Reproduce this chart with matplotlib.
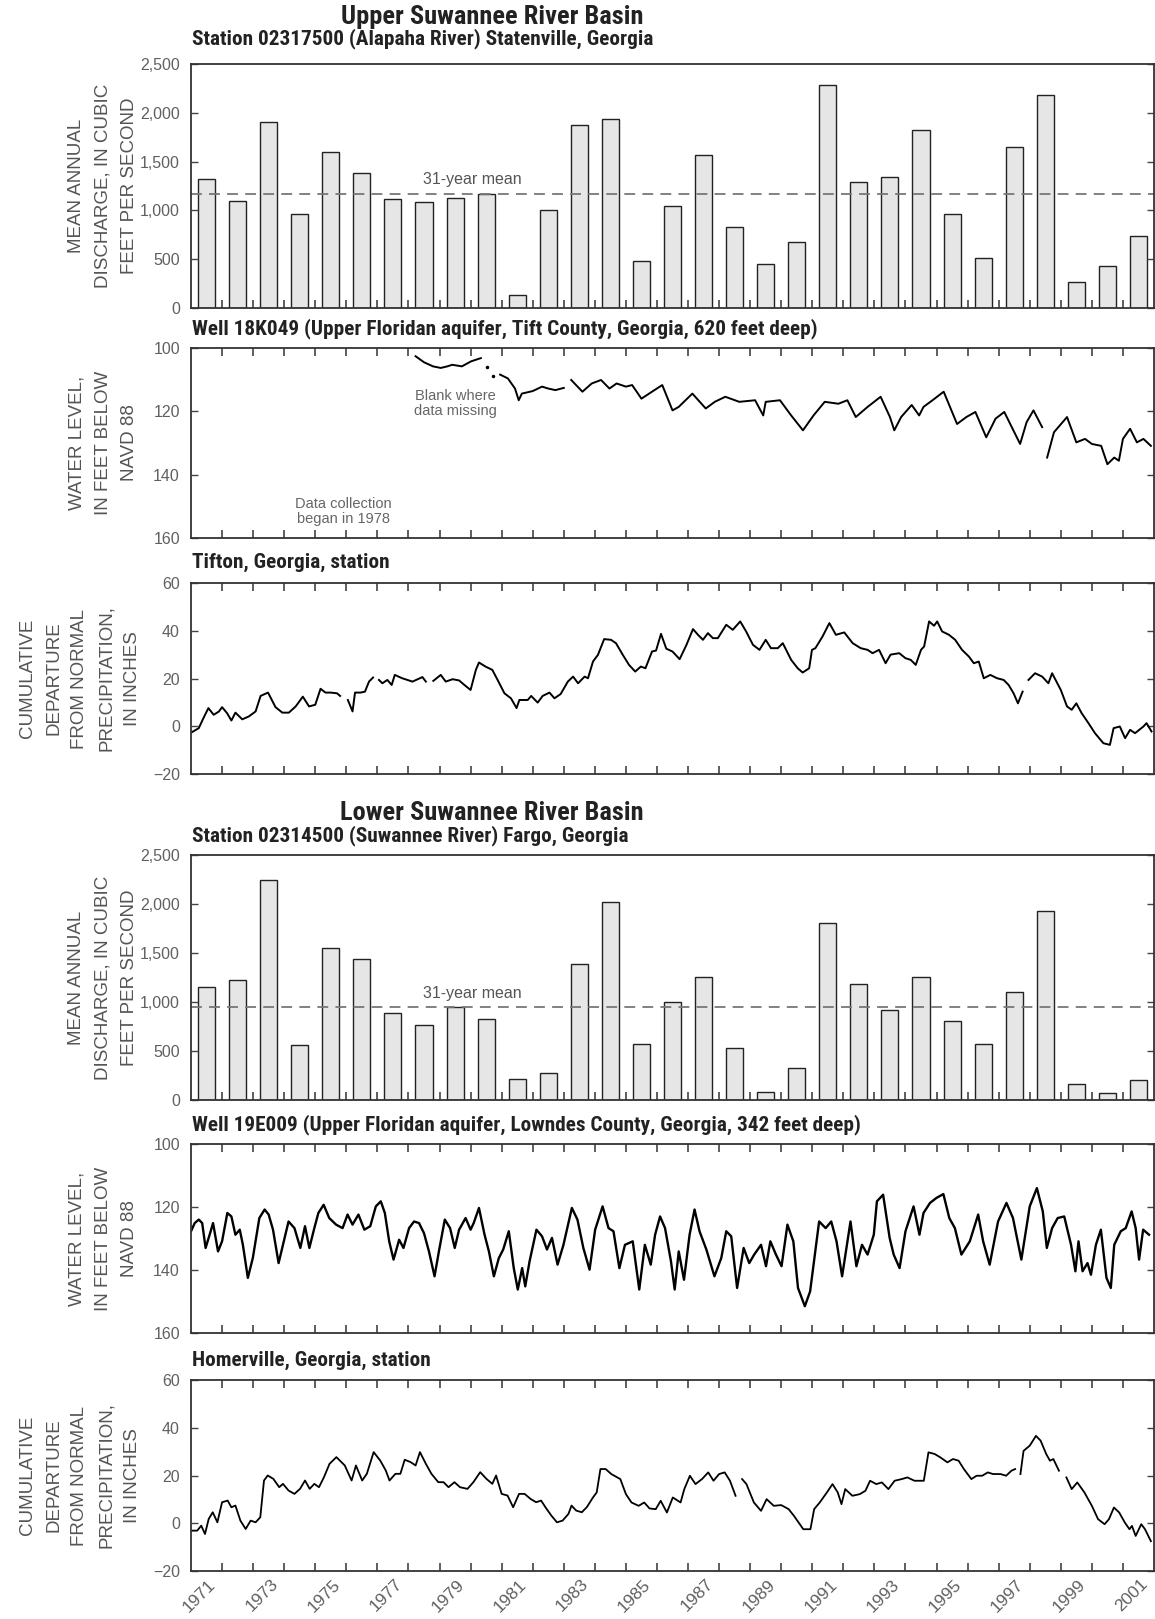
import numpy as np
import matplotlib.pyplot as plt
from matplotlib import font_manager as fm

plt.rcParams['font.family'] = ['Liberation Sans', 'DejaVu Sans']

years = np.arange(1971, 2002)

# mean annual discharge, cfs
statenville_q = [1318, 1096, 1901, 959, 1603, 1387, 1120, 1089, 1127, 1164,
                 137, 1003, 1870, 1940, 486, 1044, 1565, 833, 449, 680,
                 2289, 1289, 1344, 1820, 959, 510, 1650, 2184, 262, 435, 741]
fargo_q = [1156, 1224, 2245, 561, 1548, 1435, 891, 765, 952, 823,
           218, 272, 1384, 2017, 571, 1000, 1252, 527, 85, 330,
           1810, 1180, 918, 1259, 810, 575, 1099, 1929, 160, 68, 201]

nan = np.nan

# Well 18K049, water level in feet below NAVD 88 (nan = gap in record)
well18_t = [1978.23, 1978.5, 1978.79, 1979.04, 1979.25, 1979.41, 1979.72, 1980.02, 1980.33, nan,
            1980.95, 1981.2, 1981.43, 1981.55, 1981.65, 1982.0, 1982.3, 1982.5, 1982.73, 1983.0, nan,
            1983.24, 1983.6, 1983.9, 1984.2, 1984.47, 1984.7, 1985.0, 1985.2, 1985.5, 1985.84,
            1986.17, 1986.5, 1986.7, 1987.14, 1987.57, 1987.86, 1988.2, 1988.65, 1989.16, 1989.42,
            1989.5, 1989.96, 1990.32, 1990.7, 1991.04, 1991.4, 1991.84, 1992.13, 1992.4, 1992.78,
            1993.2, 1993.5, 1993.64, 1993.86, 1994.2, 1994.44, 1994.58, 1994.87, 1995.23, 1995.66,
            1995.96, 1996.25, 1996.6, 1996.9, 1997.18, 1997.69, 1997.9, 1998.12, 1998.4, nan,
            1998.56, 1998.78, 1999.2, 1999.5, 1999.78, 2000.0, 2000.3, 2000.5, 2000.72, 2000.87,
            2001.0, 2001.23, 2001.45, 2001.66, 2001.9]
well18_v = [102.6, 104.5, 105.8, 106.3, 105.8, 105.3, 105.8, 104.2, 103.2, nan,
            108.4, 109.6, 112.8, 116.5, 114.4, 113.6, 112.2, 112.8, 113.3, 112.6, nan,
            110.1, 113.8, 111.2, 110.1, 112.8, 111.2, 112.2, 111.7, 116.0, 113.8,
            111.7, 119.7, 118.6, 114.4, 119.1, 117.0, 115.4, 117.0, 116.5, 121.3,
            117.0, 116.5, 121.3, 126.0, 121.3, 117.0, 117.6, 116.5, 121.8, 118.6,
            115.4, 121.8, 126.0, 121.8, 118.0, 121.3, 118.6, 116.5, 113.8, 124.0,
            121.8, 120.2, 128.2, 122.3, 120.2, 130.3, 123.4, 119.7, 125.0, nan,
            134.6, 126.6, 121.8, 129.8, 128.7, 130.3, 130.9, 136.7, 134.6, 135.6,
            128.7, 125.5, 129.8, 128.7, 130.9]
well18_dots_t = [1980.52, 1980.73]
well18_dots_v = [106.0, 109.0]

# Tifton cumulative departure from normal precipitation, inches
tifton_t = [1971.0, 1971.25, 1971.4, 1971.56, 1971.73, 1971.9, 1972.0, 1972.16, 1972.3, 1972.43,
            1972.65, 1972.86, 1973.08, 1973.24, 1973.48, 1973.72, 1973.94, 1974.15, 1974.37, 1974.6,
            1974.8, 1975.0, 1975.17, 1975.33, 1975.5, 1975.7, 1975.8, nan,
            1976.05, 1976.2, 1976.28, 1976.46, 1976.6, 1976.73, 1976.86, nan,
            1977.05, 1977.16, 1977.32, 1977.46, 1977.56, 1977.8, 1978.13, 1978.45, 1978.56, nan,
            1978.8, 1979.04, 1979.2, 1979.42, 1979.63, 1979.8, 1980.0, 1980.17, 1980.27, 1980.48,
            1980.7, 1980.87, 1981.09, 1981.3, 1981.48, 1981.57, 1981.84, 1981.95, 1982.16, 1982.32,
            1982.54, 1982.7, 1982.9, 1983.13, 1983.3, 1983.46, 1983.67, 1983.78, 1983.94, 1984.1,
            1984.3, 1984.52, 1984.68, 1984.9, 1985.1, 1985.3, 1985.48, 1985.63, 1985.84, 1985.97,
            1986.13, 1986.3, 1986.5, 1986.73, 1986.95, 1987.16, 1987.32, 1987.48, 1987.64, 1987.8,
            1987.96, 1988.23, 1988.44, 1988.68, 1988.87, 1989.09, 1989.3, 1989.5, 1989.67, 1989.89,
            1990.05, 1990.32, 1990.53, 1990.69, 1990.9, 1990.99, 1991.1, 1991.33, 1991.55, 1991.76,
            1992.03, 1992.3, 1992.56, 1992.78, 1992.94, 1993.15, 1993.36, 1993.52, 1993.8, 1994.0,
            1994.17, 1994.33, 1994.5, 1994.6, 1994.76, 1994.92, 1995.02, 1995.18, 1995.4, 1995.6,
            1995.82, 1996.04, 1996.2, 1996.36, 1996.52, 1996.73, 1996.95, 1997.16, 1997.32, 1997.48,
            1997.62, 1997.77, nan,
            1997.96, 1998.17, 1998.4, 1998.6, 1998.72, 1999.0, 1999.2, 1999.35, 1999.5, 1999.67,
            1999.89, 2000.1, 2000.37, 2000.58, 2000.7, 2000.9, 2001.07, 2001.23, 2001.39, 2001.66,
            2001.76, 2001.92]
tifton_v = [-2.7, -0.8, 3.4, 7.6, 4.8, 6.2, 8.0, 5.5, 2.4, 5.7,
            2.9, 4.1, 6.2, 12.7, 14.1, 8.0, 5.7, 5.7, 8.3, 12.4,
            8.3, 9.0, 15.7, 14.1, 14.1, 13.8, 12.7, nan,
            11.0, 6.2, 14.1, 14.1, 14.5, 18.7, 20.4, nan,
            19.4, 18.0, 19.4, 17.3, 21.5, 20.1, 18.7, 20.6, 18.7, nan,
            19.0, 21.5, 18.7, 19.7, 19.2, 17.3, 15.2, 23.6, 26.7, 25.0,
            23.6, 19.4, 13.8, 11.7, 7.6, 11.0, 11.0, 12.7, 9.9, 12.7,
            14.1, 11.7, 13.5, 18.7, 20.8, 18.0, 20.8, 20.1, 27.1, 29.9,
            36.5, 36.2, 34.8, 29.9, 25.7, 22.9, 25.0, 24.3, 31.3, 31.7,
            38.7, 32.5, 31.3, 28.1, 34.1, 40.7, 38.3, 36.2, 39.0, 36.9,
            36.9, 42.5, 40.4, 43.9, 39.7, 34.1, 32.0, 36.2, 32.7, 32.7,
            34.8, 27.8, 24.3, 22.5, 24.3, 32.0, 32.7, 37.6, 43.2, 38.3,
            39.3, 34.8, 32.7, 32.0, 30.6, 32.0, 26.4, 30.0, 30.6, 28.5,
            27.8, 25.7, 32.0, 33.4, 43.9, 42.1, 43.9, 39.7, 38.3, 36.2,
            32.0, 29.2, 26.4, 27.1, 20.1, 21.5, 20.1, 19.4, 17.3, 13.8,
            9.6, 14.5, nan,
            19.4, 22.2, 20.8, 18.0, 22.2, 15.2, 8.3, 6.9, 9.6, 5.5,
            1.3, -2.9, -7.1, -7.8, -0.8, -0.1, -5.0, -1.5, -2.9, -0.1,
            1.3, -2.2]

# Well 19E009, water level in feet below NAVD 88
well19_t = [1971.0, 1971.12, 1971.25, 1971.36, 1971.47, 1971.6, 1971.71, 1971.87, 1972.0, 1972.17,
            1972.3, 1972.43, 1972.57, 1972.67, 1972.83, 1972.99, 1973.2, 1973.37, 1973.5, 1973.64,
            1973.82, 1973.96, 1974.14, 1974.33, 1974.52, 1974.67, 1974.81, 1974.97, 1975.1, 1975.27,
            1975.45, 1975.67, 1975.88, 1976.04, 1976.2, 1976.39, 1976.58, 1976.77, 1976.95, 1977.11,
            1977.24, 1977.38, 1977.52, 1977.7, 1977.84, 1978.02, 1978.18, 1978.34, 1978.5, 1978.66,
            1978.84, 1978.98, 1979.17, 1979.34, 1979.49, 1979.63, 1979.84, 1980.0, 1980.1, 1980.27,
            1980.45, 1980.59, 1980.75, 1980.91, 1981.05, 1981.23, 1981.39, 1981.52, 1981.66, 1981.76,
            1981.9, 1982.12, 1982.3, 1982.46, 1982.62, 1982.8, 1982.99, 1983.26, 1983.44, 1983.63,
            1983.83, 1984.01, 1984.25, 1984.44, 1984.6, 1984.79, 1984.97, 1985.22, 1985.43, 1985.61,
            1985.8, 1985.94, 1986.1, 1986.26, 1986.45, 1986.57, 1986.7, 1986.87, 1987.05, 1987.21,
            1987.37, 1987.59, 1987.85, 1988.07, 1988.23, 1988.39, 1988.58, 1988.79, 1988.97, 1989.13,
            1989.35, 1989.51, 1989.65, 1989.83, 1990.01, 1990.2, 1990.39, 1990.54, 1990.76, 1990.93,
            1991.11, 1991.22, 1991.43, 1991.61, 1991.78, 1991.96, 1992.23, 1992.42, 1992.6, 1992.78,
            1992.98, 1993.08, 1993.28, 1993.49, 1993.62, 1993.81, 1994.0, 1994.26, 1994.45, 1994.58,
            1994.79, 1995.0, 1995.22, 1995.41, 1995.59, 1995.8, 1996.07, 1996.34, 1996.5, 1996.71,
            1996.98, 1997.25, 1997.46, 1997.73, 1998.0, 1998.23, 1998.42, 1998.55, 1998.72, 1998.9,
            1999.11, 1999.33, 1999.47, 1999.57, 1999.7, 1999.86, 1999.97, 2000.13, 2000.29, 2000.47,
            2000.61, 2000.72, 2000.93, 2001.09, 2001.28, 2001.41, 2001.52, 2001.65, 2001.84]
well19_v = [127.7, 125.1, 124.0, 125.1, 133.0, 128.8, 125.1, 134.1, 130.9, 121.9,
            123.0, 128.8, 127.2, 132.0, 142.5, 136.2, 123.5, 120.8, 122.4, 127.2,
            137.8, 132.0, 124.6, 126.7, 133.0, 126.1, 133.0, 126.7, 121.9, 119.3,
            123.5, 125.6, 126.7, 122.4, 125.6, 122.4, 127.2, 126.1, 119.8, 118.2,
            121.9, 130.9, 136.7, 130.4, 133.0, 126.7, 124.6, 125.1, 128.3, 134.1,
            142.0, 134.1, 124.0, 126.7, 133.0, 127.2, 123.5, 127.2, 125.1, 120.3,
            128.8, 134.1, 142.0, 136.2, 133.5, 127.7, 139.4, 146.2, 139.4, 145.2,
            137.2, 127.2, 129.3, 133.5, 129.8, 138.3, 132.0, 120.3, 124.0, 133.0,
            139.9, 127.2, 119.8, 126.7, 127.7, 139.4, 132.0, 130.9, 146.2, 132.0,
            138.3, 128.8, 123.0, 126.7, 137.2, 146.2, 134.1, 143.1, 128.8, 120.8,
            127.7, 133.5, 142.0, 136.2, 127.7, 129.3, 145.7, 133.0, 137.8, 135.1,
            132.0, 138.8, 130.9, 135.1, 138.8, 125.6, 130.9, 145.7, 151.5, 146.8,
            133.0, 124.6, 126.7, 124.6, 130.9, 142.0, 124.6, 138.8, 132.0, 135.1,
            128.8, 118.2, 116.1, 129.8, 135.1, 139.4, 127.7, 119.8, 128.8, 121.9,
            118.7, 117.1, 115.9, 123.5, 126.7, 135.1, 130.9, 122.4, 130.9, 138.3,
            124.6, 118.7, 123.5, 136.7, 119.8, 114.0, 121.4, 133.0, 126.7, 123.5,
            123.0, 132.0, 140.4, 130.9, 140.4, 137.8, 141.5, 132.0, 127.2, 142.5,
            145.7, 132.0, 127.7, 126.7, 121.4, 126.7, 136.7, 127.2, 128.8]

# Homerville cumulative departure from normal precipitation, inches
homer_t = [1971.0, 1971.2, 1971.33, 1971.45, 1971.57, 1971.7, 1971.85, 1972.0, 1972.18, 1972.3,
           1972.43, 1972.59, 1972.76, 1972.92, 1973.08, 1973.23, 1973.35, 1973.47, 1973.65, 1973.84,
           1973.96, 1974.14, 1974.33, 1974.51, 1974.67, 1974.82, 1974.97, 1975.12, 1975.28, 1975.46,
           1975.68, 1975.95, 1976.17, 1976.31, 1976.51, 1976.66, 1976.88, 1977.09, 1977.27, 1977.39,
           1977.58, 1977.74, 1977.88, 1978.07, 1978.23, 1978.37, 1978.56, 1978.74, 1978.96, 1979.13,
           1979.29, 1979.48, 1979.66, 1979.9, 1980.09, 1980.31, 1980.51, 1980.7, 1980.82, 1981.0,
           1981.19, 1981.37, 1981.56, 1981.74, 1981.93, 1982.11, 1982.27, 1982.41, 1982.6, 1982.78,
           1982.96, 1983.15, 1983.25, 1983.4, 1983.58, 1983.74, 1983.94, 1984.06, 1984.18, 1984.35,
           1984.53, 1984.82, 1985.0, 1985.18, 1985.41, 1985.59, 1985.76, 1985.96, 1986.12, 1986.32,
           1986.51, 1986.76, 1986.88, 1987.06, 1987.24, 1987.45, 1987.65, 1987.82, 1988.0, 1988.18,
           1988.35, 1988.53, nan,
           1988.74, 1988.88, 1989.12, 1989.35, 1989.53, 1989.76, 1990.0, 1990.24, 1990.41, 1990.71,
           1990.94, 1991.06, 1991.24, 1991.47, 1991.65, 1991.82, 1991.94, 1992.06, 1992.29, 1992.53,
           1992.71, 1992.86, 1993.06, 1993.24, 1993.45, 1993.65, 1993.88, 1994.06, 1994.29, 1994.47,
           1994.59, 1994.74, 1994.94, 1995.12, 1995.35, 1995.53, 1995.71, 1995.88, 1996.12, 1996.29,
           1996.47, 1996.65, 1996.82, 1997.06, 1997.24, 1997.41, 1997.53, nan,
           1997.7, 1997.8, 1998.0, 1998.2, 1998.35, 1998.53, 1998.65, 1998.76, 1998.94, nan,
           1999.18, 1999.35, 1999.53, 1999.76, 2000.0, 2000.2, 2000.41, 2000.55, 2000.71, 2000.88,
           2001.06, 2001.21, 2001.29, 2001.41, 2001.59, 2001.71, 2001.9]
homer_v = [-3.1, -3.1, -1.0, -4.5, 1.8, 4.6, 0.4, 8.8, 9.5, 6.7,
           7.4, 1.1, -2.4, 1.1, 0.4, 2.5, 17.9, 20.0, 18.6, 15.1,
           16.5, 13.7, 12.3, 14.4, 17.9, 14.4, 16.5, 15.1, 19.3, 24.9,
           27.7, 24.2, 17.9, 24.2, 17.9, 20.7, 29.8, 26.3, 22.1, 17.9,
           20.7, 20.7, 26.6, 25.6, 24.2, 29.8, 24.9, 20.7, 17.2, 17.2,
           15.1, 17.2, 15.1, 14.4, 17.2, 21.4, 18.6, 16.5, 20.0, 12.3,
           11.6, 6.7, 12.3, 12.3, 10.2, 8.8, 9.5, 6.7, 3.2, 0.4,
           1.1, 3.9, 7.4, 5.3, 4.6, 6.7, 10.8, 12.9, 22.7, 22.7,
           20.6, 18.5, 12.2, 8.7, 7.3, 8.7, 6.2, 5.9, 9.4, 4.5,
           10.8, 8.7, 14.3, 19.9, 16.4, 18.5, 21.3, 17.8, 20.6, 21.3,
           17.8, 11.5, nan,
           18.5, 16.4, 8.7, 5.2, 10.1, 7.3, 7.6, 5.9, 3.1, -2.5,
           -2.5, 5.9, 8.7, 12.9, 16.4, 12.9, 8.0, 14.3, 11.5, 12.2,
           13.6, 17.8, 16.4, 17.1, 14.3, 17.8, 18.5, 19.2, 17.8, 17.8,
           17.8, 29.7, 29.0, 27.6, 25.5, 26.9, 26.2, 22.7, 18.5, 19.9,
           19.9, 21.3, 20.6, 20.6, 19.9, 22.0, 22.7, nan,
           20.6, 30.3, 32.5, 36.6, 34.6, 29.0, 26.2, 26.9, 22.0, nan,
           19.2, 14.3, 17.1, 12.9, 7.3, 1.7, -0.4, 1.7, 6.6, 4.5,
           0.3, -2.5, -1.1, -5.3, -0.4, -2.5, -7.5]

W, H = 1155, 1619
fig = plt.figure(figsize=(W / 100, H / 100), dpi=100)
fig.patch.set_facecolor('white')

# a narrow bold face for the headings if one is installed
installed = {f.name for f in fm.fontManager.ttflist}
narrow = next((n for n in ['Liberation Sans Narrow', 'Arial Narrow', 'Roboto Condensed',
                           'Open Sans Condensed', 'DejaVu Sans Condensed'] if n in installed), None)
if narrow:
    head_font = dict(family=[narrow, 'DejaVu Sans'], weight='bold', color='#222')
    title_size, sub_size = 19, 15.3
else:
    head_font = dict(family=['Liberation Sans', 'DejaVu Sans'], weight='bold', color='#222')
    title_size, sub_size = 17, 13
gray = '#606060'


def panel(top, bottom):
    ax = fig.add_axes([191 / W, 1 - bottom / H, (1154 - 191) / W, (bottom - top) / H])
    for sp in ax.spines.values():
        sp.set_color('#333')
        sp.set_linewidth(1.3)
    ax.set_xlim(1971, 2002)
    ax.set_xticks(np.arange(1972, 2002))
    ax.tick_params(axis='x', direction='in', top=True, length=6, width=1.1, color='#333',
                   labelbottom=False)
    ax.tick_params(axis='y', direction='in', right=True, length=5, width=1.0, color='#444',
                   labelsize=11.5, labelcolor=gray, pad=8)
    return ax


def ylab(ax, text, x):
    pos = ax.get_position()
    fig.text(x / W, (pos.y0 + pos.y1) / 2, text, rotation=90,
             ha='center', va='center', multialignment='center', fontsize=13.5,
             color='#555', linespacing=1.7)


def sub(text, top, gap=9):
    fig.text(192 / W, 1 - (top - gap) / H, text, ha='left', va='bottom', fontsize=sub_size,
             **head_font)


def bars(ax, q):
    ax.bar(years + 0.5, q, width=0.55, color='#e6e6e6', edgecolor='#222', linewidth=1.0)
    m = np.mean(q)
    ax.axhline(m, color='#777', lw=1.3, ls=(0, (6, 4)))
    ax.text(1980.05, m + 70, '31-year mean', ha='center', va='bottom', fontsize=11.5, color='#555')
    ax.set_ylim(0, 2500)
    ax.set_yticks(np.arange(0, 2501, 500))
    ax.set_yticklabels([f'{v:,}' for v in range(0, 2501, 500)])
    ax.tick_params(axis='x', top=False)


def well(ax):
    ax.set_ylim(160, 100)
    ax.set_yticks([100, 120, 140, 160])


def precip(ax):
    ax.set_ylim(-20, 60)
    ax.set_yticks([-20, 0, 20, 40, 60])


# ---- Upper Suwannee
fig.text(492 / W, 1 - 17 / H, 'Upper Suwannee River Basin', ha='center', va='center',
         fontsize=title_size, **head_font)

ax1 = panel(64, 308)
bars(ax1, statenville_q)
sub('Station 02317500 (Alapaha River) Statenville, Georgia', 64, gap=15)
ylab(ax1, 'MEAN ANNUAL\nDISCHARGE, IN CUBIC\nFEET PER SECOND', 103)

ax2 = panel(348, 538)
well(ax2)
ax2.plot(well18_t, well18_v, color='k', lw=1.4)
ax2.plot(well18_dots_t, well18_dots_v, 'k.', ms=3)
ax2.text(1979.5, 117.5, 'Blank where\ndata missing', ha='center', va='center', fontsize=10.5,
         color='#666', linespacing=1.1)
ax2.text(1975.9, 151.5, 'Data collection\nbegan in 1978', ha='center', va='center', fontsize=10.5,
         color='#666', linespacing=1.1)
sub('Well 18K049 (Upper Floridan aquifer, Tift County, Georgia, 620 feet deep)', 348)
ylab(ax2, 'WATER LEVEL,\nIN FEET BELOW\nNAVD 88', 103)

ax3 = panel(583, 774)
precip(ax3)
ax3.plot(tifton_t, tifton_v, color='k', lw=1.4)
sub('Tifton, Georgia, station', 583, gap=11)
ylab(ax3, 'CUMULATIVE\nDEPARTURE\nFROM NORMAL\nPRECIPITATION,\nIN INCHES', 80)

# ---- Lower Suwannee
fig.text(492 / W, 1 - 813 / H, 'Lower Suwannee River Basin', ha='center', va='center',
         fontsize=title_size, **head_font)

ax4 = panel(855, 1100)
bars(ax4, fargo_q)
sub('Station 02314500 (Suwannee River) Fargo, Georgia', 855)
ylab(ax4, 'MEAN ANNUAL\nDISCHARGE, IN CUBIC\nFEET PER SECOND', 103)

ax5 = panel(1144, 1333)
well(ax5)
ax5.plot(well19_t, well19_v, color='k', lw=1.7)
sub('Well 19E009 (Upper Floridan aquifer, Lowndes County, Georgia, 342 feet deep)', 1144)
ylab(ax5, 'WATER LEVEL,\nIN FEET BELOW\nNAVD 88', 103)

ax6 = panel(1380, 1571)
precip(ax6)
ax6.plot(homer_t, homer_v, color='k', lw=1.3)
sub('Homerville, Georgia, station', 1380, gap=10)
ylab(ax6, 'CUMULATIVE\nDEPARTURE\nFROM NORMAL\nPRECIPITATION,\nIN INCHES', 80)

# year labels, centred in odd years
lab_years = np.arange(1971, 2002, 2)
ax6.set_xticks(lab_years + 0.55, [str(y) for y in lab_years], minor=True)
ax6.tick_params(axis='x', which='minor', length=0, labelbottom=True, labelsize=12.5,
                labelcolor=gray, labelrotation=45, pad=4)
for lbl in ax6.get_xticklabels(minor=True):
    lbl.set_ha('right')
    lbl.set_rotation_mode('anchor')

fig.savefig('out.png', dpi=100)
